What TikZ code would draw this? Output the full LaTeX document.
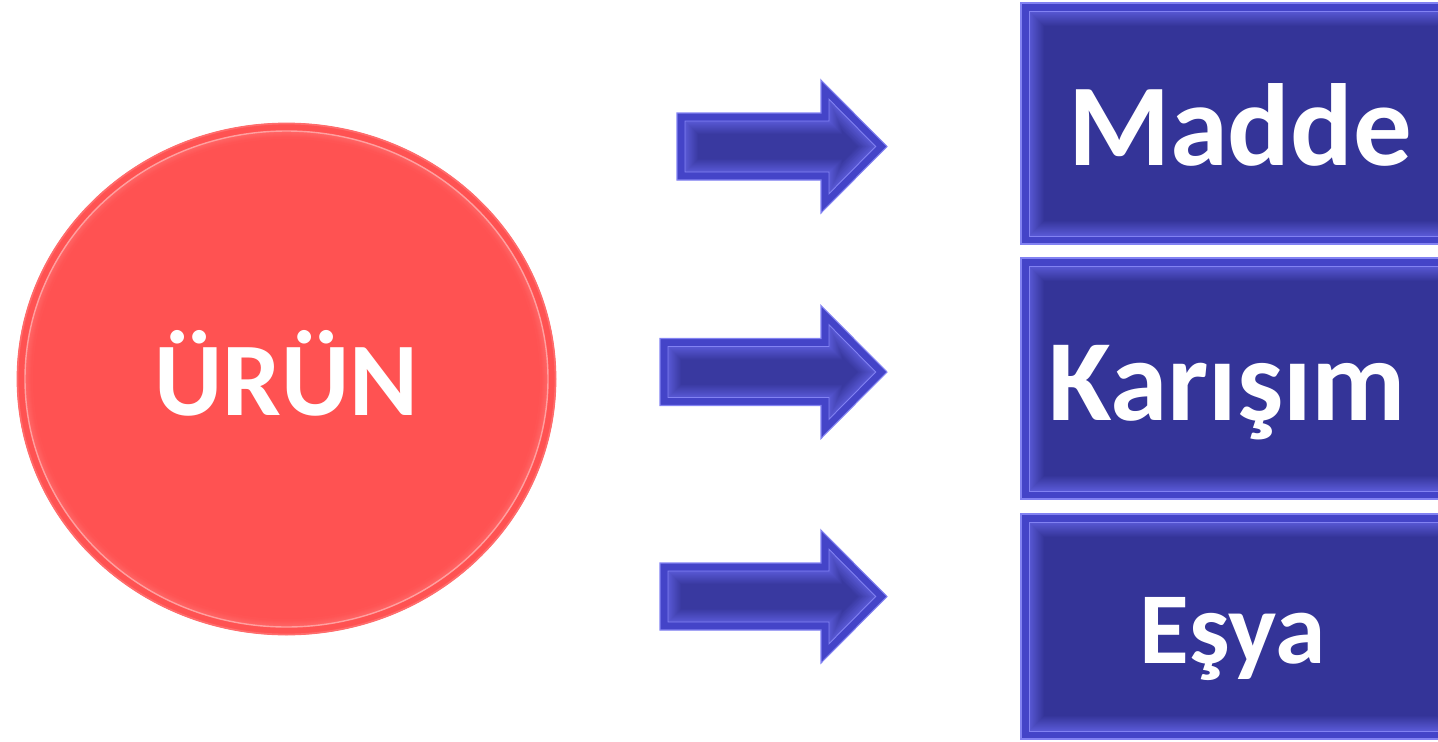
\documentclass[tikz,border=0pt]{standalone}
\usepackage{fontspec}
\setmainfont{Carlito}
\definecolor{boxmain}{RGB}{52,52,152}
\definecolor{boxmid}{RGB}{68,68,200}
\definecolor{boxlight}{RGB}{100,100,232}
\definecolor{boxline}{RGB}{130,130,242}
\definecolor{redmain}{RGB}{255,82,82}
\definecolor{redlight}{RGB}{255,160,160}
\tikzset{
  bigtext/.style={text=white, font=\fontsize{#1}{#1}\selectfont\bfseries, inner sep=0pt, anchor=base},
}
% box with bevel: #1 x1, #2 y1, #3 x2, #4 y2
\newcommand\bevelbox[4]{%
  \fill[boxmid] (#1,#2) rectangle (#3,#4);
  \draw[boxline, line width=0.6pt] (#1,#2) rectangle (#3,#4);
  \foreach \d [evaluate=\d as \p using {int(75-5*(\d-8))}] in {8,...,23}{
    \fill[boxlight!\p!boxmain] ({#1+\d},{#2+\d}) rectangle ({#3-\d},{#4-\d});
  }
  \draw[boxline, line width=0.5pt] ({#1+8},{#2+8}) rectangle ({#3-8},{#4-8});
}
% arrow polygon inset by #1, left x #2, centre y #3
\newcommand\arrowpoly[3]{%
  ({#2+#1},{#3-33.5+#1}) -- ({821+#1},{#3-33.5+#1}) -- ({821+#1},{#3-66.5+#1*2.414})
  -- ({887-#1*1.414},{#3}) -- ({821+#1},{#3+66.5-#1*2.414}) -- ({821+#1},{#3+33.5-#1})
  -- ({#2+#1},{#3+33.5-#1}) -- cycle}
\newcommand\bluearrow[3]{% #1 name, #2 left x, #3 centre y
  \fill[boxmid] \arrowpoly{0}{#2}{#3};
  \draw[boxline, line width=0.6pt] \arrowpoly{0}{#2}{#3};
  \foreach \d [evaluate=\d as \p using {int(75-5*(\d-8))}] in {8,...,21}{
    \fill[boxlight!\p!boxmain] \arrowpoly{\d}{#2}{#3};
  }
  \draw[boxline, line width=0.5pt] \arrowpoly{8}{#2}{#3};
  \coordinate (#1) at ({(#2+887)/2},#3);
}
\begin{document}
\begin{tikzpicture}[x=0.02cm, y=-0.02cm]
  \useasboundingbox (0,0) rectangle (1438,741);
  \clip (0,0) rectangle (1438,741);
  % circle
  \fill[redmain] (286.5,379) ellipse [x radius=269.5, y radius=256];
  \draw[redmain!85!white, line width=1pt] (286.5,379) ellipse [x radius=269, y radius=255.5];
  \foreach \d [evaluate=\d as \p using {int(30-4*(\d-8))}] in {9,...,15}{
    \draw[redlight!\p!redmain, line width=1.2pt] (286.5,379) ellipse [x radius={269.5-\d}, y radius={256-\d}];
  }
  \draw[redlight, line width=0.8pt] (286.5,379) ellipse [x radius=261.5, y radius=248];
  \node[bigtext=59.5] (urun) at (286.5,415) {ÜRÜN};
  % arrows
  \bluearrow{a1}{677}{146.5}
  \bluearrow{a2}{660}{372}
  \bluearrow{a3}{660}{596.5}
  % boxes
  \bevelbox{1021}{3}{1460}{244}
  \bevelbox{1021}{258}{1460}{499}
  \bevelbox{1021}{514}{1460}{739}
  \node[bigtext=66.5] (madde) at (1240,165) {Madde};
  \node[bigtext=66] (karisim) at (1227,420) {Karışım};
  \node[bigtext=58] (esya) at (1232.5,663) {Eşya};
\end{tikzpicture}
\end{document}
